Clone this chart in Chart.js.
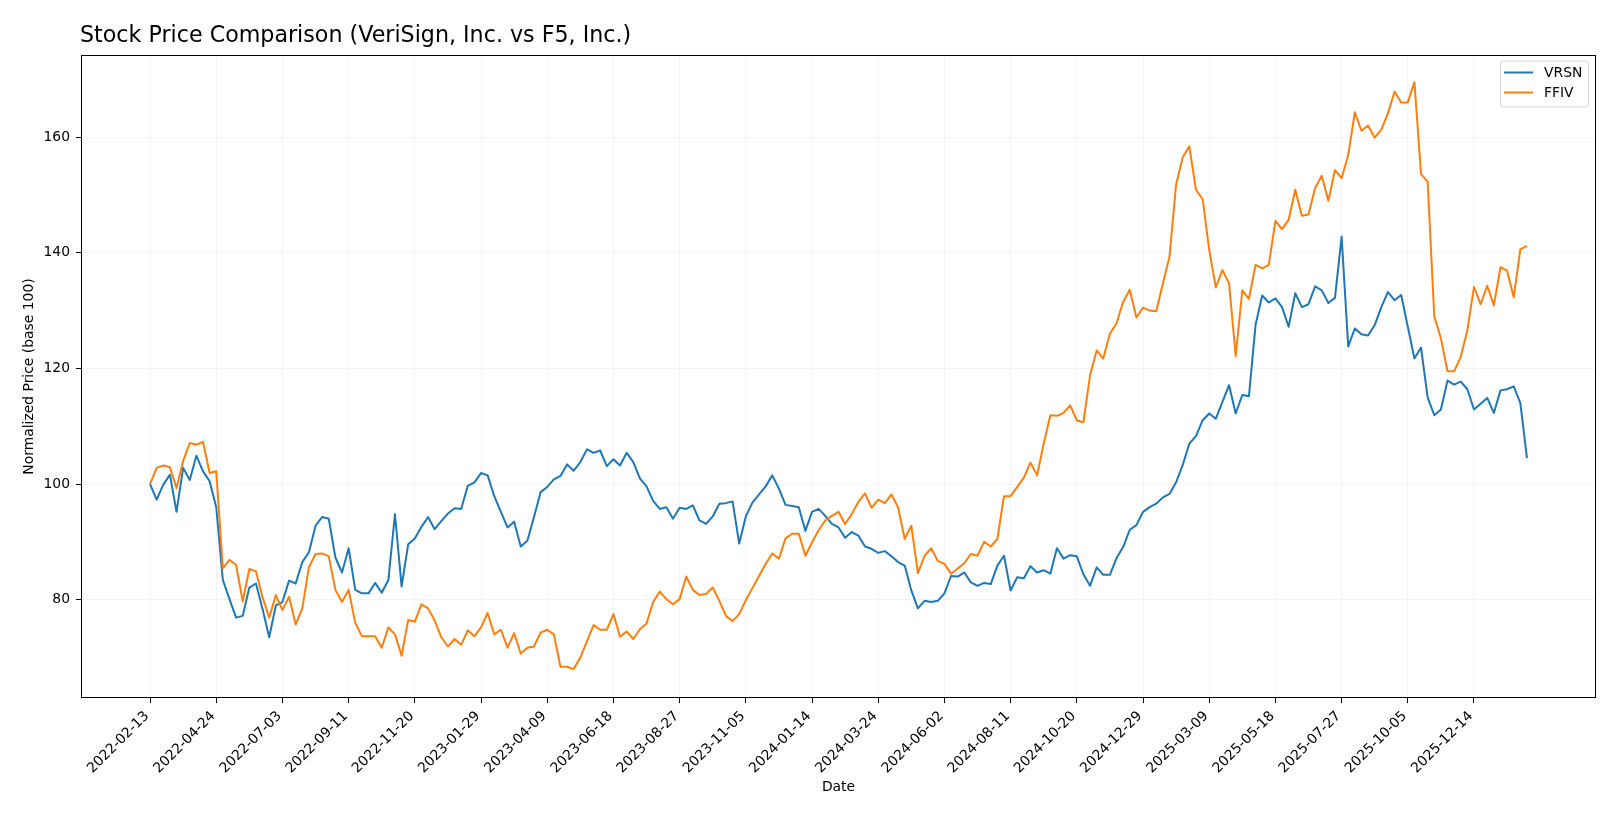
<!DOCTYPE html>
<html><head><meta charset="utf-8">
<script src="https://cdn.jsdelivr.net/npm/chart.js@4/dist/chart.umd.min.js"></script>
<style>html,body{margin:0;padding:0;background:#fff;}canvas{display:block;}</style>
</head><body>
<canvas id="c" width="1620" height="819"></canvas>
<script>
const chartTitle = 'Stock Price Comparison (VeriSign, Inc. vs F5, Inc.)';
const xTitle = 'Date';
const yTitle = 'Normalized Price (base 100)';
const startDate = '2022-02-13';
const tickLabels = ['2022-02-13','2022-04-24','2022-07-03','2022-09-11','2022-11-20','2023-01-29','2023-04-09','2023-06-18','2023-08-27','2023-11-05','2024-01-14','2024-03-24','2024-06-02','2024-08-11','2024-10-20','2024-12-29','2025-03-09','2025-05-18','2025-07-27','2025-10-05','2025-12-14'];
const yTicks = [80,100,120,140,160];
const seriesNames = ['VRSN','FFIV'];
const seriesColors = ['#1f77b4','#ff7f0e'];
const vrsn = [
100,97.3,99.9,101.6,95.2,102.8,100.7,104.9,102.2,100.5,
96.0,83.4,80.1,76.9,77.2,82.1,82.8,78.4,73.5,79.0,
79.6,83.3,82.8,86.5,88.2,92.8,94.3,94.0,87.3,84.7,
88.9,81.7,81.1,81.1,82.9,81.2,83.4,94.8,82.3,89.6,
90.6,92.6,94.3,92.2,93.6,94.9,95.8,95.7,99.7,100.3,
101.9,101.5,97.9,95.2,92.5,93.5,89.2,90.2,94.3,98.6,
99.5,100.8,101.4,103.4,102.3,103.8,106.0,105.4,105.8,103.1,
104.3,103.2,105.4,103.8,101.0,99.6,97.1,95.7,96.0,94.0,
95.9,95.7,96.3,93.7,93.1,94.4,96.6,96.7,97.0,89.7,
94.4,96.8,98.2,99.6,101.5,99.2,96.4,96.2,96.0,91.9,
95.2,95.7,94.5,93.1,92.5,90.7,91.7,91.1,89.2,88.8,
88.1,88.4,87.5,86.5,85.9,81.6,78.5,79.8,79.6,79.8,
81.1,84.1,84.0,84.7,83.0,82.4,82.9,82.7,85.9,87.6,
81.6,83.9,83.7,85.8,84.7,85.1,84.5,88.9,87.1,87.7,
87.5,84.4,82.4,85.6,84.3,84.3,87.2,89.1,92.1,92.9,
95.2,96.0,96.6,97.7,98.3,100.3,103.3,107.0,108.3,111.0,
112.2,111.3,114.2,117.1,112.2,115.4,115.2,127.5,132.6,131.4,
132.1,130.6,127.2,133.0,130.6,131.1,134.2,133.5,131.3,132.2,
142.8,123.8,126.9,125.9,125.7,127.5,130.6,133.2,131.8,132.7,
127.2,121.7,123.6,115.0,111.9,112.9,117.9,117.2,117.7,116.4,
112.9,113.9,114.9,112.3,116.2,116.4,116.9,114.0,104.5
];
const ffiv = [
100,102.8,103.2,102.9,99.3,104.0,107.1,106.8,107.3,101.9,
102.2,85.4,86.9,86.0,79.7,85.3,84.9,80.4,76.9,80.8,
78.2,80.5,75.7,78.5,85.6,87.9,88.0,87.5,81.7,79.6,
81.7,76.0,73.7,73.7,73.7,71.7,75.2,74.0,70.3,76.5,
76.2,79.2,78.5,76.4,73.5,71.9,73.2,72.2,74.7,73.7,
75.2,77.7,74.0,74.8,71.7,74.2,70.7,71.7,71.9,74.3,
74.8,74.0,68.4,68.4,68.0,70.0,72.8,75.6,74.8,74.8,
77.5,73.6,74.5,73.2,74.9,75.9,79.6,81.4,80.1,79.2,
80.1,84.0,81.7,80.8,81.0,82.1,79.8,77.2,76.3,77.5,
79.9,82.0,84.1,86.2,88.0,87.1,90.6,91.4,91.4,87.6,
89.9,92.0,93.7,94.5,95.2,93.1,94.8,96.9,98.4,95.9,
97.3,96.7,98.2,96.0,90.5,92.8,84.6,87.6,88.9,86.7,
86.2,84.5,85.4,86.3,87.9,87.6,90.0,89.2,90.5,97.9,
97.9,99.5,101.1,103.7,101.5,107.0,111.9,111.8,112.3,113.6,
111.0,110.7,118.8,123.1,121.7,126.0,127.8,131.5,133.6,128.8,
130.5,130.0,129.9,134.7,139.3,151.8,156.5,158.4,150.9,149.3,
140.5,134.0,137.0,134.7,122.1,133.5,132.0,137.9,137.3,137.9,
145.5,144.1,145.7,150.9,146.4,146.6,151.2,153.3,149.0,154.3,
152.9,156.9,164.3,161.1,162.0,159.9,161.3,164.1,167.9,166.0,
166.0,169.5,153.6,152.3,129.0,125.2,119.5,119.5,122.0,126.6,
134.1,131.1,134.3,130.9,137.5,136.9,132.3,140.6,141.2
];

// weekly dates (categories)
const dates = [];
{
  const d0 = new Date(startDate + 'T00:00:00Z');
  for (let i = 0; i < vrsn.length; i++) {
    const d = new Date(d0.getTime() + i * 7 * 86400000);
    dates.push(d.toISOString().slice(0, 10));
  }
}
const tickIdx = tickLabels.map(l => dates.indexOf(l));
const toPts = arr => arr.map((v, i) => ({x: i, y: v}));

const FONT = 'DejaVu Sans';
const FS = 13.9;
Chart.defaults.font.family = FONT;
Chart.defaults.color = '#000';

const PLOT = {left: 81, top: 55, right: 1596, bottom: 698};

const framePlugin = {
  id: 'frame',
  afterDraw(chart) {
    const ctx = chart.ctx, a = chart.chartArea;
    ctx.save();
    ctx.strokeStyle = '#000';
    ctx.lineWidth = 1;
    ctx.strokeRect(Math.round(a.left) + 0.5, Math.round(a.top) + 0.5, Math.round(a.right - a.left) - 1, Math.round(a.bottom - a.top) - 1);
    // title
    ctx.fillStyle = '#000';
    ctx.font = '22.2px "' + FONT + '"';
    ctx.textAlign = 'left';
    ctx.textBaseline = 'alphabetic';
    ctx.fillText(chartTitle, a.left - 1, 41.5);
    // legend
    const bx = 1500.5, by = 61, bw = 88, bh = 46;
    ctx.beginPath();
    ctx.roundRect(bx, by, bw, bh, 3);
    ctx.fillStyle = 'rgba(255,255,255,0.8)';
    ctx.fill();
    ctx.strokeStyle = '#d6d6d6';
    ctx.lineWidth = 1;
    ctx.stroke();
    const rows = [72.5, 92.5];
    ctx.font = FS + 'px "' + FONT + '"';
    ctx.textBaseline = 'middle';
    seriesNames.forEach((n, i) => {
      ctx.beginPath();
      ctx.strokeStyle = seriesColors[i];
      ctx.lineWidth = 2;
      ctx.moveTo(1504, rows[i]);
      ctx.lineTo(1533, rows[i]);
      ctx.stroke();
      ctx.fillStyle = '#000';
      ctx.fillText(n, 1544, rows[i] + 1);
    });
    ctx.restore();
  }
};

new Chart(document.getElementById('c'), {
  type: 'line',
  data: {
    datasets: [
      {label: seriesNames[0], data: toPts(vrsn), borderColor: seriesColors[0], backgroundColor: seriesColors[0], borderWidth: 2, pointRadius: 0, tension: 0, borderJoinStyle: 'round', order: 1},
      {label: seriesNames[1], data: toPts(ffiv), borderColor: seriesColors[1], backgroundColor: seriesColors[1], borderWidth: 2, pointRadius: 0, tension: 0, borderJoinStyle: 'round', order: 0}
    ]
  },
  options: {
    responsive: false,
    animation: false,
    devicePixelRatio: 1,
    layout: {padding: {left: 0, top: PLOT.top, right: 1620 - PLOT.right, bottom: 0}},
    plugins: {legend: {display: false}, title: {display: false}, tooltip: {enabled: false}},
    scales: {
      x: {
        type: 'linear',
        min: -10.43,
        max: 218.43,
        afterBuildTicks: s => { s.ticks = tickIdx.map(v => ({value: v})); },
        afterFit: s => { s.height = 819 - PLOT.bottom; },
        ticks: {
          autoSkip: false, maxRotation: 45, minRotation: 45, padding: 5, labelOffset: -3,
          font: {size: FS}, color: '#000',
          callback: (v) => dates[v]
        },
        grid: {color: 'rgba(0,0,0,0.06)', lineWidth: 0.8, tickColor: '#000', tickLength: 5, tickWidth: 1},
        border: {display: false},
        title: {display: true, text: xTitle, font: {size: FS}, color: '#000', padding: {top: 0, bottom: 23}}
      },
      y: {
        type: 'linear',
        min: 63.0,
        max: 174.2,
        afterBuildTicks: s => { s.ticks = yTicks.map(v => ({value: v})); },
        afterFit: s => { s.width = PLOT.left; },
        ticks: {font: {size: FS}, color: '#000', padding: 6},
        grid: {color: 'rgba(0,0,0,0.06)', lineWidth: 0.8, tickColor: '#000', tickLength: 5, tickWidth: 1},
        border: {display: false},
        title: {display: true, text: yTitle, font: {size: FS}, color: '#000', padding: {top: 21, bottom: 0}}
      }
    }
  },
  plugins: [framePlugin]
});
</script>
</body></html>
